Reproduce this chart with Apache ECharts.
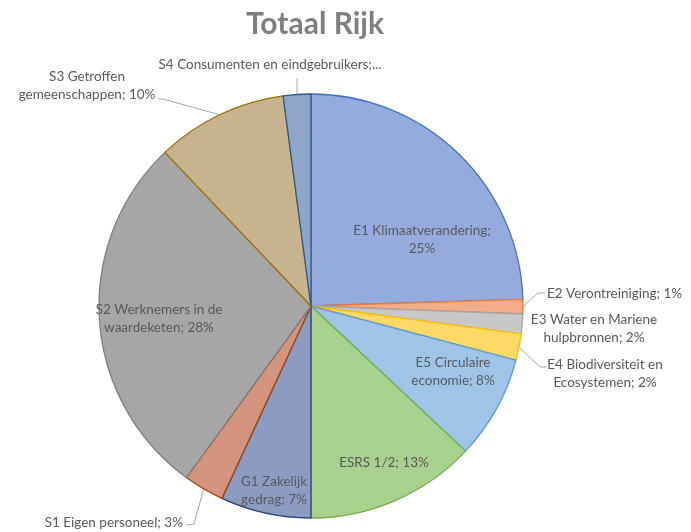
<!DOCTYPE html>
<html>
<head>
<meta charset="utf-8">
<script src="https://cdn.jsdelivr.net/npm/echarts@6/dist/echarts.min.js"></script>
<style>html,body{margin:0;padding:0;background:#fff}#c{width:691px;height:532px}</style>
</head>
<body>
<div id="c"></div>
<script>
// Data (clockwise from 12 o'clock)
const categories = [
  'E1 Klimaatverandering', 'E2 Verontreiniging', 'E3 Water en Mariene hulpbronnen',
  'E4 Biodiversiteit en Ecosystemen', 'E5 Circulaire economie', 'ESRS 1/2',
  'G1 Zakelijk gedrag', 'S1 Eigen personeel', 'S2 Werknemers in de waardeketen',
  'S3 Getroffen gemeenschappen', 'S4 Consumenten en eindgebruikers'
];
const values = [24.5, 1.1, 1.5, 2.0, 7.9, 13.0, 6.9, 3.1, 27.9, 10.0, 2.1];
const title = 'Totaal Rijk';

// Styling
const fills = ['#95abde', '#f4ad8b', '#c8c8c8', '#ffd966', '#9fc4e7', '#a9d18e',
               '#8b9bc2', '#d4937c', '#a6a6a6', '#c9b38e', '#8fa6c9'];
const borders = ['#4472c4', '#ed7d31', '#a5a5a5', '#ffc000', '#5b9bd5', '#70ad47',
                 '#264478', '#9e480e', '#7f7f7f', '#997300', '#255e91'];
const breakAfter = {0: 2, 2: 4, 3: 3, 4: 2, 6: 2, 8: 4, 9: 2};
const truncated = {10: true};
// label placement (pixel positions of label text, not of marks)
const insideAt = {0: [422, 240], 4: [453, 372], 5: [384, 463], 6: [274, 491], 8: [159, 319]};
const outside = {
  1: {x: 547, y: 294, align: 'left', elbow: [538, 293], tail: [545, 293]},
  2: {x: 594, y: 329, align: 'center', hideLine: true},
  3: {x: 605, y: 374, align: 'center', elbow: [540, 367], tail: [547, 367]},
  7: {x: 183, y: 523, align: 'right', elbow: [194, 524], tail: [186, 525]},
  9: {x: 87, y: 86, align: 'center', elbow: [163, 99], tail: [158, 99]},
  10: {x: 270, y: 65, align: 'center', elbow: [297, 78], tail: [297, 78]}
};

const data = categories.map((n, i) => ({
  name: n,
  value: values[i],
  itemStyle: {color: fills[i], borderColor: borders[i], borderWidth: 1.3},
  label: {position: outside[i] ? 'outside' : 'inside'},
  labelLine: {show: !!outside[i] && !outside[i].hideLine}
}));

const chart = echarts.init(document.getElementById('c'), null, {renderer: 'canvas'});
chart.setOption({
  animation: false,
  title: {
    text: title, left: 310, top: 4, textAlign: 'center',
    textStyle: {fontFamily: 'Lato', fontWeight: 'bold', fontSize: 30, color: '#7f7f7f'}
  },
  series: [{
    type: 'pie',
    center: [311, 306],
    radius: 212,
    startAngle: 90,
    clockwise: true,
    avoidLabelOverlap: false,
    data: data,
    label: {
      fontFamily: 'Lato', fontSize: 13.5, color: '#595959', lineHeight: 18,
      overflow: 'none',
      formatter: function (p) {
        let s = p.name + ';';
        if (truncated[p.dataIndex]) return s + '...';
        s += ' ' + Math.round(p.percent) + '%';
        const n = breakAfter[p.dataIndex];
        if (n) {
          const w = s.split(' ');
          s = w.slice(0, n).join(' ') + '\n' + w.slice(n).join(' ');
        }
        return s;
      }
    },
    labelLine: {lineStyle: {color: '#a6a6a6', width: 1}, length: 10, length2: 10},
    emphasis: {disabled: true},
    labelLayout: function (p) {
      const i = p.dataIndex;
      if (insideAt[i]) {
        return {x: insideAt[i][0], y: insideAt[i][1], align: 'center',
                verticalAlign: 'middle', hideOverlap: false};
      }
      const o = outside[i];
      if (!o) return {hideOverlap: false};
      const res = {x: o.x, y: o.y, align: o.align, verticalAlign: 'middle', hideOverlap: false};
      if (!o.hideLine && p.labelLinePoints) {
        res.labelLinePoints = [p.labelLinePoints[0], o.elbow, o.tail];
      }
      return res;
    }
  }]
});
</script>
</body>
</html>
